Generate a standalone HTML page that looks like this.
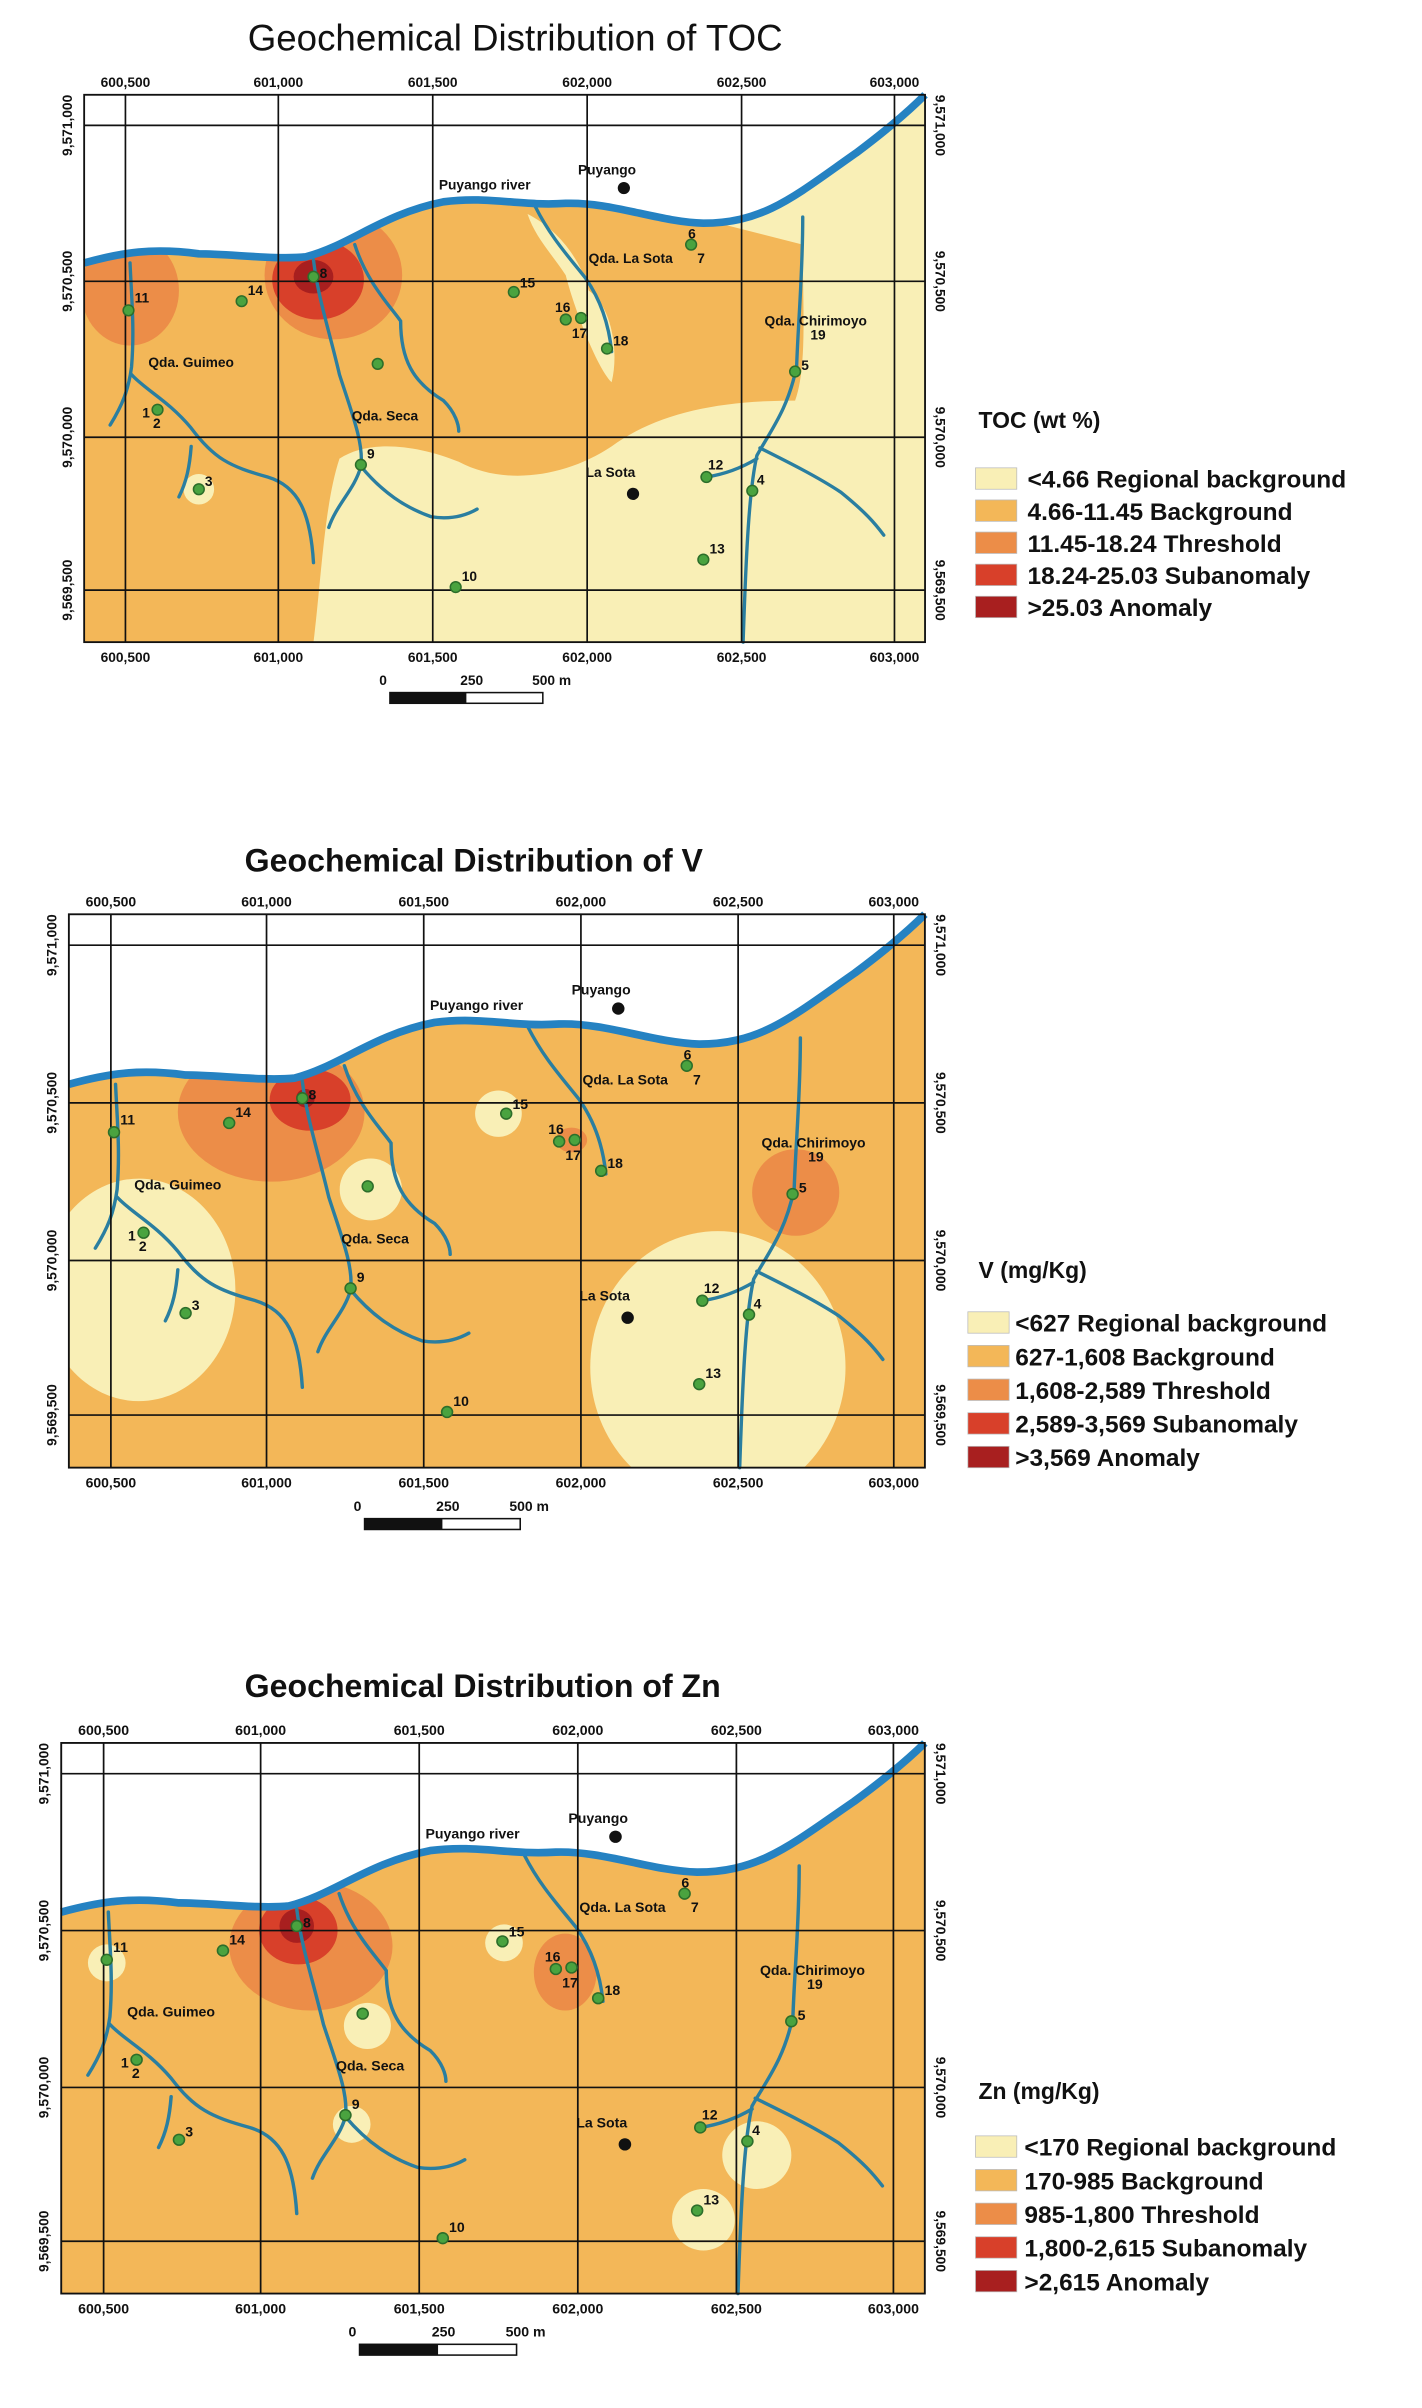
<!DOCTYPE html>
<html><head><meta charset="utf-8"><style>
html,body{margin:0;padding:0;background:#fff}
svg{display:block}
text{font-family:"Liberation Sans",Arial,sans-serif;fill:#111}
.t{font-size:9px;font-weight:bold}
.ax{font-size:9px;font-weight:bold}
.lg{font-size:16px;font-weight:bold}
.lt{font-size:15px;font-weight:bold}
</style></head><body>
<svg width="1422" height="2408" viewBox="0 0 930 1575" xmlns="http://www.w3.org/2000/svg">
<defs>
<clipPath id="fr"><rect x="55" y="62" width="550" height="358"/></clipPath>
<g id="top">
  <path d="M55,62 L605,62 L605,62 C595,72 580,85 560,100 C520,128 500,146 460,146 C430,145 400,132 370,133 C340,135 320,128 290,132 C250,140 230,160 200,168 C180,170 150,166 130,166 C100,162 80,165 55,172 Z" fill="#fff"/>
  <g fill="none" stroke="#2a7ea0" stroke-width="2.2" stroke-linecap="round">
    <path d="M85,172 C86,195 88,215 86,240 C84,255 80,265 72,278"/>
    <path d="M86,245 C95,255 110,262 125,280 C140,300 150,305 175,312 C195,318 203,335 205,368"/>
    <path d="M125,292 C124,305 122,315 117,325"/>
    <path d="M205,170 C208,195 215,215 222,245 C230,270 238,290 236,305 C232,320 220,330 215,345"/>
    <path d="M236,305 C250,322 265,332 282,338 C295,340 305,337 312,333"/>
    <path d="M232,160 C240,185 255,200 262,210 C262,235 270,250 290,262 C298,270 300,278 300,282"/>
    <path d="M350,135 C360,155 372,168 383,182 C392,195 398,210 400,230"/>
    <path d="M525,142 C525,180 522,210 521,240 C515,268 505,280 495,298 C490,320 488,360 486,420"/>
    <path d="M497,293 C515,302 535,312 550,322 C566,335 572,342 578,350"/>
    <path d="M462,312 C475,310 485,306 495,300"/>
  </g>
  <path d="M55,172 C80,165 100,162 130,166 C150,166 180,170 200,168 C230,160 250,140 290,132 C320,128 340,135 370,133 C400,132 430,145 460,146 C500,146 520,128 560,100 C580,85 595,72 605,62" fill="none" stroke="#2582c2" stroke-width="5"/>
  <g stroke="#111" stroke-width="1.1">
    <line x1="82" y1="62" x2="82" y2="420"/><line x1="182" y1="62" x2="182" y2="420"/>
    <line x1="283" y1="62" x2="283" y2="420"/><line x1="384" y1="62" x2="384" y2="420"/>
    <line x1="485" y1="62" x2="485" y2="420"/><line x1="585" y1="62" x2="585" y2="420"/>
    <line x1="55" y1="82" x2="605" y2="82"/><line x1="55" y1="184" x2="605" y2="184"/>
    <line x1="55" y1="286" x2="605" y2="286"/><line x1="55" y1="386" x2="605" y2="386"/>
  </g>
  <rect x="55" y="62" width="550" height="358" fill="none" stroke="#111" stroke-width="1.2"/>
  <g fill="#4aa33f" stroke="#2d6e2a" stroke-width="1">
    <circle cx="84" cy="203" r="3.5"/><circle cx="158" cy="197" r="3.5"/><circle cx="205" cy="181" r="3.5"/>
    <circle cx="336" cy="191" r="3.5"/><circle cx="370" cy="209" r="3.5"/><circle cx="380" cy="208" r="3.5"/>
    <circle cx="397" cy="228" r="3.5"/><circle cx="452" cy="160" r="3.5"/><circle cx="520" cy="243" r="3.5"/>
    <circle cx="103" cy="268" r="3.5"/><circle cx="130" cy="320" r="3.5"/><circle cx="236" cy="304" r="3.5"/>
    <circle cx="462" cy="312" r="3.5"/><circle cx="492" cy="321" r="3.5"/><circle cx="460" cy="366" r="3.5"/>
    <circle cx="298" cy="384" r="3.5"/><circle cx="247" cy="238" r="3.5"/>
  </g>
  <circle cx="408" cy="123" r="4" fill="#111"/><circle cx="414" cy="323" r="4" fill="#111"/>
</g>
<g id="scale">
  <rect x="255" y="453" width="100" height="7" fill="#fff" stroke="#111"/>
  <rect x="255" y="453" width="50" height="7" fill="#111"/>
</g>
</defs>

<!-- PANEL 1 -->
<text x="162" y="33" style="font-size:24px">Geochemical Distribution of TOC</text>
<g>
  <g clip-path="url(#fr)">
    <rect x="55" y="62" width="550" height="358" fill="#f3b758"/>
    <path d="M470,146 C500,140 560,100 605,62 L605,420 L205,420 C210,380 212,330 222,300 C240,288 270,290 300,302 C330,318 370,312 400,292 C430,270 470,262 520,262 C528,240 525,200 525,160 Z" fill="#f9efb6"/>
    <path d="M345,140 C365,150 380,170 385,190 C400,200 405,230 400,250 C390,240 375,200 370,180 C360,165 350,155 345,140Z" fill="#f9efb6"/>
    <circle cx="130" cy="320" r="10" fill="#f9efb6"/>
    <ellipse cx="85" cy="190" rx="32" ry="36" fill="#ec8d48"/>
    <ellipse cx="218" cy="180" rx="45" ry="42" fill="#ec8d48"/>
    <ellipse cx="208" cy="183" rx="30" ry="26" fill="#d8402a"/>
    <ellipse cx="205" cy="181" rx="13" ry="11" fill="#a81f1f"/>
  </g>
  <use href="#top"/>
  <g class="t">
    <text x="88" y="198">11</text><text x="162" y="193">14</text><text x="209" y="182">8</text>
    <text x="340" y="188">15</text><text x="363" y="204">16</text><text x="374" y="221">17</text>
    <text x="401" y="226">18</text><text x="450" y="156">6</text><text x="456" y="172">7</text>
    <text x="524" y="242">5</text><text x="93" y="273">1</text><text x="100" y="280">2</text>
    <text x="134" y="318">3</text><text x="240" y="300">9</text><text x="463" y="307">12</text>
    <text x="495" y="317">4</text><text x="464" y="362">13</text><text x="302" y="380">10</text>
    <text x="287" y="124">Puyango river</text><text x="378" y="114">Puyango</text>
    <text x="385" y="172">Qda. La Sota</text><text x="500" y="213">Qda. Chirimoyo</text>
    <text x="530" y="222">19</text>
    <text x="97" y="240">Qda. Guimeo</text><text x="230" y="275">Qda. Seca</text><text x="383" y="312">La Sota</text>
  </g>
  <g class="ax" text-anchor="middle">
    <text x="82" y="57">600,500</text><text x="182" y="57">601,000</text><text x="283" y="57">601,500</text>
    <text x="384" y="57">602,000</text><text x="485" y="57">602,500</text><text x="585" y="57">603,000</text>
    <text x="82" y="433">600,500</text><text x="182" y="433">601,000</text><text x="283" y="433">601,500</text>
    <text x="384" y="433">602,000</text><text x="485" y="433">602,500</text><text x="585" y="433">603,000</text>
    <text transform="translate(47,82) rotate(-90)">9,571,000</text>
    <text transform="translate(47,184) rotate(-90)">9,570,500</text>
    <text transform="translate(47,286) rotate(-90)">9,570,000</text>
    <text transform="translate(47,386) rotate(-90)">9,569,500</text>
    <text transform="translate(612,82) rotate(90)">9,571,000</text>
    <text transform="translate(612,184) rotate(90)">9,570,500</text>
    <text transform="translate(612,286) rotate(90)">9,570,000</text>
    <text transform="translate(612,386) rotate(90)">9,569,500</text>
  </g>
</g>
<use href="#scale"/>
<g class="ax"><text x="248" y="448">0</text><text x="301" y="448">250</text><text x="348" y="448">500 m</text></g>
<text x="640" y="280" class="lt">TOC (wt %)</text>
<g stroke="#bbb" stroke-width="0.5">
<rect x="638" y="306" width="27" height="14" fill="#f9efb6"/><rect x="638" y="327" width="27" height="14" fill="#f3b758"/>
<rect x="638" y="348" width="27" height="14" fill="#ec8d48"/><rect x="638" y="369" width="27" height="14" fill="#d8402a"/>
<rect x="638" y="390" width="27" height="14" fill="#a81f1f"/></g>
<g class="lg"><text x="672" y="319">&lt;4.66 Regional background</text><text x="672" y="340">4.66-11.45 Background</text>
<text x="672" y="361">11.45-18.24 Threshold</text><text x="672" y="382">18.24-25.03 Subanomaly</text><text x="672" y="403">&gt;25.03 Anomaly</text></g>

<!-- PANEL 2 -->
<text x="160" y="570" style="font-size:21px;font-weight:bold">Geochemical Distribution of V</text>
<g transform="translate(45,598) scale(1.018,1.011) translate(-55,-62)">
  <g clip-path="url(#fr)">
    <rect x="55" y="62" width="550" height="358" fill="#f3b758"/>
    <ellipse cx="100" cy="305" rx="62" ry="72" fill="#f9efb6"/>
    <ellipse cx="472" cy="355" rx="82" ry="88" fill="#f9efb6"/>
    <circle cx="331" cy="191" r="15" fill="#f9efb6"/>
    <circle cx="249" cy="240" r="20" fill="#f9efb6"/>
    <ellipse cx="185" cy="190" rx="60" ry="45" fill="#ec8d48"/>
    <ellipse cx="210" cy="182" rx="26" ry="20" fill="#d8402a"/>
    <circle cx="207" cy="181" r="6" fill="#a81f1f"/>
    <circle cx="522" cy="242" r="28" fill="#ec8d48"/>
    <ellipse cx="378" cy="208" rx="10" ry="8" fill="#ec8d48"/>
  </g>
  <use href="#top"/>
  <g class="t">
    <text x="88" y="198">11</text><text x="162" y="193">14</text><text x="209" y="182">8</text>
    <text x="340" y="188">15</text><text x="363" y="204">16</text><text x="374" y="221">17</text>
    <text x="401" y="226">18</text><text x="450" y="156">6</text><text x="456" y="172">7</text>
    <text x="524" y="242">5</text><text x="93" y="273">1</text><text x="100" y="280">2</text>
    <text x="134" y="318">3</text><text x="240" y="300">9</text><text x="463" y="307">12</text>
    <text x="495" y="317">4</text><text x="464" y="362">13</text><text x="302" y="380">10</text>
    <text x="287" y="124">Puyango river</text><text x="378" y="114">Puyango</text>
    <text x="385" y="172">Qda. La Sota</text><text x="500" y="213">Qda. Chirimoyo</text>
    <text x="530" y="222">19</text>
    <text x="97" y="240">Qda. Guimeo</text><text x="230" y="275">Qda. Seca</text><text x="383" y="312">La Sota</text>
  </g>
  <g class="ax" text-anchor="middle">
    <text x="82" y="57">600,500</text><text x="182" y="57">601,000</text><text x="283" y="57">601,500</text>
    <text x="384" y="57">602,000</text><text x="485" y="57">602,500</text><text x="585" y="57">603,000</text>
    <text x="82" y="433">600,500</text><text x="182" y="433">601,000</text><text x="283" y="433">601,500</text>
    <text x="384" y="433">602,000</text><text x="485" y="433">602,500</text><text x="585" y="433">603,000</text>
    <text transform="translate(47,82) rotate(-90)">9,571,000</text>
    <text transform="translate(47,184) rotate(-90)">9,570,500</text>
    <text transform="translate(47,286) rotate(-90)">9,570,000</text>
    <text transform="translate(47,386) rotate(-90)">9,569,500</text>
    <text transform="translate(612,82) rotate(90)">9,571,000</text>
    <text transform="translate(612,184) rotate(90)">9,570,500</text>
    <text transform="translate(612,286) rotate(90)">9,570,000</text>
    <text transform="translate(612,386) rotate(90)">9,569,500</text>
  </g>
  <use href="#scale" transform="translate(-10,0)"/>
  <g class="ax"><text x="238" y="448">0</text><text x="291" y="448">250</text><text x="338" y="448">500 m</text></g>
</g>
<text x="640" y="836" class="lt">V (mg/Kg)</text>
<g stroke="#bbb" stroke-width="0.5">
<rect x="633" y="858" width="27" height="14" fill="#f9efb6"/><rect x="633" y="880" width="27" height="14" fill="#f3b758"/>
<rect x="633" y="902" width="27" height="14" fill="#ec8d48"/><rect x="633" y="924" width="27" height="14" fill="#d8402a"/>
<rect x="633" y="946" width="27" height="14" fill="#a81f1f"/></g>
<g class="lg"><text x="664" y="871">&lt;627 Regional background</text><text x="664" y="893">627-1,608 Background</text>
<text x="664" y="915">1,608-2,589 Threshold</text><text x="664" y="937">2,589-3,569 Subanomaly</text><text x="664" y="959">&gt;3,569 Anomaly</text></g>

<!-- PANEL 3 -->
<text x="160" y="1110" style="font-size:21px;font-weight:bold">Geochemical Distribution of Zn</text>
<g transform="translate(40,1140) scale(1.027,1.006) translate(-55,-62)">
  <g clip-path="url(#fr)">
    <rect x="55" y="62" width="550" height="358" fill="#f3b758"/>
    <circle cx="84" cy="205" r="12" fill="#f9efb6"/>
    <circle cx="250" cy="246" r="15" fill="#f9efb6"/>
    <circle cx="240" cy="310" r="12" fill="#f9efb6"/>
    <circle cx="337" cy="192" r="12" fill="#f9efb6"/>
    <circle cx="498" cy="330" r="22" fill="#f9efb6"/>
    <circle cx="464" cy="372" r="20" fill="#f9efb6"/>
    <ellipse cx="214" cy="194" rx="52" ry="42" fill="#ec8d48"/>
    <ellipse cx="206" cy="184" rx="25" ry="22" fill="#d8402a"/>
    <circle cx="205" cy="181" r="11" fill="#a81f1f"/>
    <ellipse cx="376" cy="211" rx="20" ry="25" fill="#ec8d48"/>
  </g>
  <use href="#top"/>
  <g class="t">
    <text x="88" y="198">11</text><text x="162" y="193">14</text><text x="209" y="182">8</text>
    <text x="340" y="188">15</text><text x="363" y="204">16</text><text x="374" y="221">17</text>
    <text x="401" y="226">18</text><text x="450" y="156">6</text><text x="456" y="172">7</text>
    <text x="524" y="242">5</text><text x="93" y="273">1</text><text x="100" y="280">2</text>
    <text x="134" y="318">3</text><text x="240" y="300">9</text><text x="463" y="307">12</text>
    <text x="495" y="317">4</text><text x="464" y="362">13</text><text x="302" y="380">10</text>
    <text x="287" y="124">Puyango river</text><text x="378" y="114">Puyango</text>
    <text x="385" y="172">Qda. La Sota</text><text x="500" y="213">Qda. Chirimoyo</text>
    <text x="530" y="222">19</text>
    <text x="97" y="240">Qda. Guimeo</text><text x="230" y="275">Qda. Seca</text><text x="383" y="312">La Sota</text>
  </g>
  <g class="ax" text-anchor="middle">
    <text x="82" y="57">600,500</text><text x="182" y="57">601,000</text><text x="283" y="57">601,500</text>
    <text x="384" y="57">602,000</text><text x="485" y="57">602,500</text><text x="585" y="57">603,000</text>
    <text x="82" y="433">600,500</text><text x="182" y="433">601,000</text><text x="283" y="433">601,500</text>
    <text x="384" y="433">602,000</text><text x="485" y="433">602,500</text><text x="585" y="433">603,000</text>
    <text transform="translate(47,82) rotate(-90)">9,571,000</text>
    <text transform="translate(47,184) rotate(-90)">9,570,500</text>
    <text transform="translate(47,286) rotate(-90)">9,570,000</text>
    <text transform="translate(47,386) rotate(-90)">9,569,500</text>
    <text transform="translate(612,82) rotate(90)">9,571,000</text>
    <text transform="translate(612,184) rotate(90)">9,570,500</text>
    <text transform="translate(612,286) rotate(90)">9,570,000</text>
    <text transform="translate(612,386) rotate(90)">9,569,500</text>
  </g>
  <use href="#scale" transform="translate(-10,0)"/>
  <g class="ax"><text x="238" y="448">0</text><text x="291" y="448">250</text><text x="338" y="448">500 m</text></g>
</g>
<text x="640" y="1373" class="lt">Zn (mg/Kg)</text>
<g stroke="#bbb" stroke-width="0.5">
<rect x="638" y="1397" width="27" height="14" fill="#f9efb6"/><rect x="638" y="1419" width="27" height="14" fill="#f3b758"/>
<rect x="638" y="1441" width="27" height="14" fill="#ec8d48"/><rect x="638" y="1463" width="27" height="14" fill="#d8402a"/>
<rect x="638" y="1485" width="27" height="14" fill="#a81f1f"/></g>
<g class="lg"><text x="670" y="1410">&lt;170 Regional background</text><text x="670" y="1432">170-985 Background</text>
<text x="670" y="1454">985-1,800 Threshold</text><text x="670" y="1476">1,800-2,615 Subanomaly</text><text x="670" y="1498">&gt;2,615 Anomaly</text></g>
</svg>
</body></html>
